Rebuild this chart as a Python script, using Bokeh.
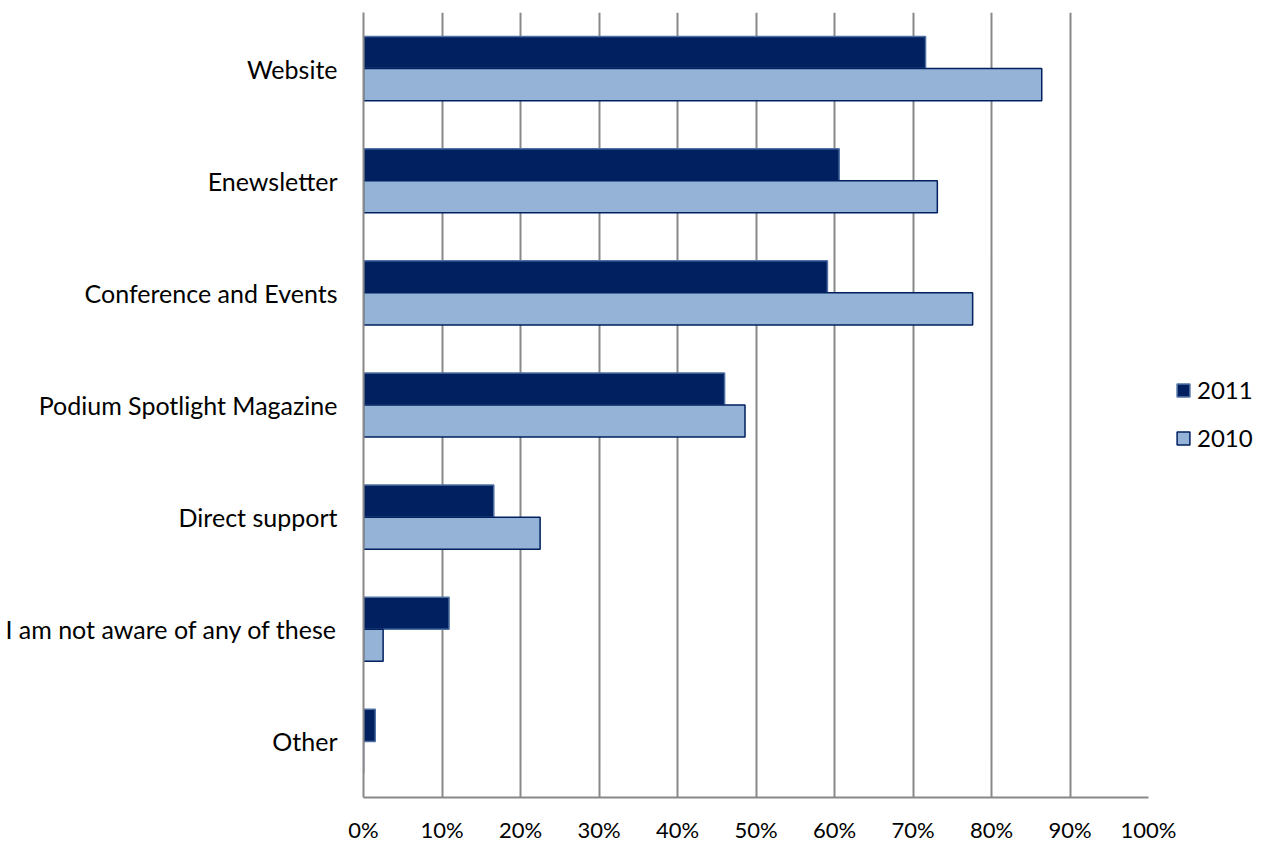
from bokeh.plotting import figure
from bokeh.models import ColumnDataSource, FactorRange, Range1d, FixedTicker, NumeralTickFormatter, Legend, LegendItem
from bokeh.transform import dodge
from bokeh.embed import file_html
from bokeh.resources import INLINE

categories = ["Website", "Enewsletter", "Conference and Events", "Podium Spotlight Magazine",
              "Direct support", "I am not aware of any of these", "Other"]
v2011 = [0.716, 0.606, 0.591, 0.460, 0.166, 0.109, 0.015]
v2010 = [0.864, 0.731, 0.776, 0.486, 0.225, 0.025, 0.0]
ticks = [0.0, 0.1, 0.2, 0.3, 0.4, 0.5, 0.6, 0.7, 0.8, 0.9, 1.0]

FONT = "Lato"
src = ColumnDataSource(dict(cat=categories, v2011=v2011, v2010=v2010))

p = figure(frame_width=785, frame_height=785, output_backend="svg", toolbar_location=None,
           y_range=FactorRange(factors=list(reversed(categories)), range_padding=0),
           x_range=Range1d(0, 1),
           min_border_left=363, min_border_top=12, min_border_bottom=46, min_border_right=0)
p.outline_line_color = None
p.background_fill_color = "white"

bh = 0.286
r1 = p.hbar(y=dodge("cat", bh / 2, range=p.y_range), left=0, right="v2011", height=bh, source=src,
            fill_color="#002060", line_color="#4f70a3", line_width=1.5)
r2 = p.hbar(y=dodge("cat", -bh / 2, range=p.y_range), left=0, right="v2010", height=bh, source=src,
            fill_color="#95B3D7", line_color="#002060", line_width=1.5)

p.xaxis.ticker = FixedTicker(ticks=ticks)
p.xaxis.formatter = NumeralTickFormatter(format="0%")
for ax in (p.xaxis[0], p.yaxis[0]):
    ax.axis_line_color = "#888888"
    ax.axis_line_width = 2
    ax.major_tick_line_color = None
    ax.minor_tick_line_color = None
    ax.major_tick_out = 0
    ax.major_tick_in = 0
    ax.major_label_text_font = FONT
    ax.major_label_text_color = "#000000"
p.xaxis.major_label_text_font_size = "22px"
p.yaxis.major_label_text_font_size = "25px"
p.xaxis.major_label_standoff = 18
p.yaxis.major_label_standoff = 26

p.xgrid.grid_line_color = "#888888"
p.xgrid.grid_line_width = 2
p.ygrid.grid_line_color = None

legend = Legend(items=[LegendItem(label="2011", renderers=[r1]), LegendItem(label="2010", renderers=[r2])],
                location=(27, 345), border_line_color=None, background_fill_alpha=0,
                label_text_font=FONT, label_text_font_size="24px", label_text_color="#000000",
                glyph_width=16, glyph_height=16,
                label_height=16, spacing=19, label_standoff=6, padding=0, margin=0)
p.add_layout(legend, "right")

open("out.html", "w").write(file_html(p, INLINE))
